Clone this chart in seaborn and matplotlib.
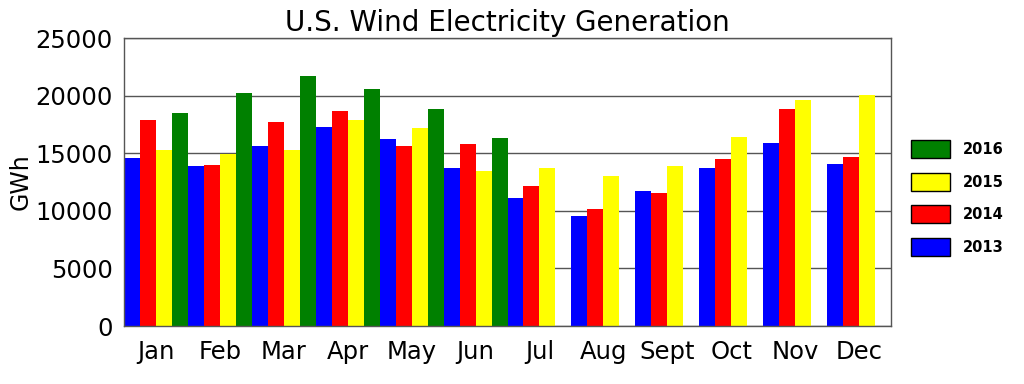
import matplotlib
matplotlib.use("Agg")
import matplotlib.pyplot as plt
import seaborn as sns
import pandas as pd
import numpy as np
from matplotlib.patches import Patch

months = ["Jan", "Feb", "Mar", "Apr", "May", "Jun", "Jul", "Aug", "Sept", "Oct", "Nov", "Dec"]
years = ["2013", "2014", "2015", "2016"]
gen_2013 = [14610, 13890, 15630, 17270, 16260, 13740, 11140, 9580, 11690, 13720, 15890, 14090]
gen_2014 = [17880, 13980, 17710, 18630, 15600, 15800, 12180, 10160, 11520, 14500, 18840, 14700]
gen_2015 = [15280, 14930, 15310, 17910, 17220, 13480, 13690, 13050, 13920, 16380, 19650, 20020]
gen_2016 = [18490, 20200, 21730, 20540, 18810, 16350, np.nan, np.nan, np.nan, np.nan, np.nan, np.nan]
colors = {"2013": "#0000ff", "2014": "#ff0000", "2015": "#ffff00", "2016": "#008000"}

rows = []
for y, vals in zip(years, [gen_2013, gen_2014, gen_2015, gen_2016]):
    for m, v in zip(months, vals):
        rows.append({"Month": m, "Year": y, "GWh": v})
df = pd.DataFrame(rows)

sns.set_style("white")
plt.rcParams['font.family'] = ['DejaVu Sans']
plt.rcParams['text.color'] = 'black'
plt.rcParams['axes.labelcolor'] = 'black'
plt.rcParams['xtick.color'] = 'black'
plt.rcParams['ytick.color'] = 'black'
fig = plt.figure(figsize=(10.24, 3.84), dpi=100)
ax = fig.add_axes([124/1024, 1 - 326/384, (891-124)/1024, (326-38)/384])

sns.barplot(data=df, x="Month", y="GWh", hue="Year", order=months, hue_order=years,
            palette=colors, width=1.0, dodge=True, linewidth=0, saturation=1, ax=ax,
            errorbar=None, legend=False)

ax.set_xlim(-0.5, 11.5)
ax.set_ylim(0, 25000)
ax.set_yticks(range(0, 25001, 5000))
ax.yaxis.grid(True, color="#555555", linewidth=1)
ax.set_axisbelow(True)
for s in ax.spines.values():
    s.set_color("#555555")
    s.set_linewidth(1)

ax.set_xticks(range(12))
ax.set_xticklabels(months)
ax.set_xticks(np.arange(-0.5, 12, 1), minor=True)
ax.tick_params(axis="x", which="major", length=0, labelsize=17.5, pad=10, labelcolor="black")
ax.tick_params(axis="x", which="minor", length=7, width=1, color="#555555", direction="out")
ax.tick_params(axis="y", length=0, labelsize=17.5, pad=8, labelcolor="black")
ax.set_xlabel("")
ax.set_ylabel("GWh", fontsize=17, labelpad=2, color="black")
ax.set_title("U.S. Wind Electricity Generation", fontsize=20, pad=5, color="black")

handles = [Patch(facecolor=colors[y], edgecolor="black", linewidth=1, label=y) for y in years[::-1]]
leg = fig.legend(handles=handles, loc="center left", bbox_to_anchor=(898/1024, 1 - 198/384),
           frameon=False, prop={"weight": "bold", "size": 10.5},
           handlelength=2.65, handleheight=1.55, labelspacing=0.98, handletextpad=0.9)
for t in leg.get_texts():
    t.set_color("black")

fig.savefig("out.png", dpi=100)
